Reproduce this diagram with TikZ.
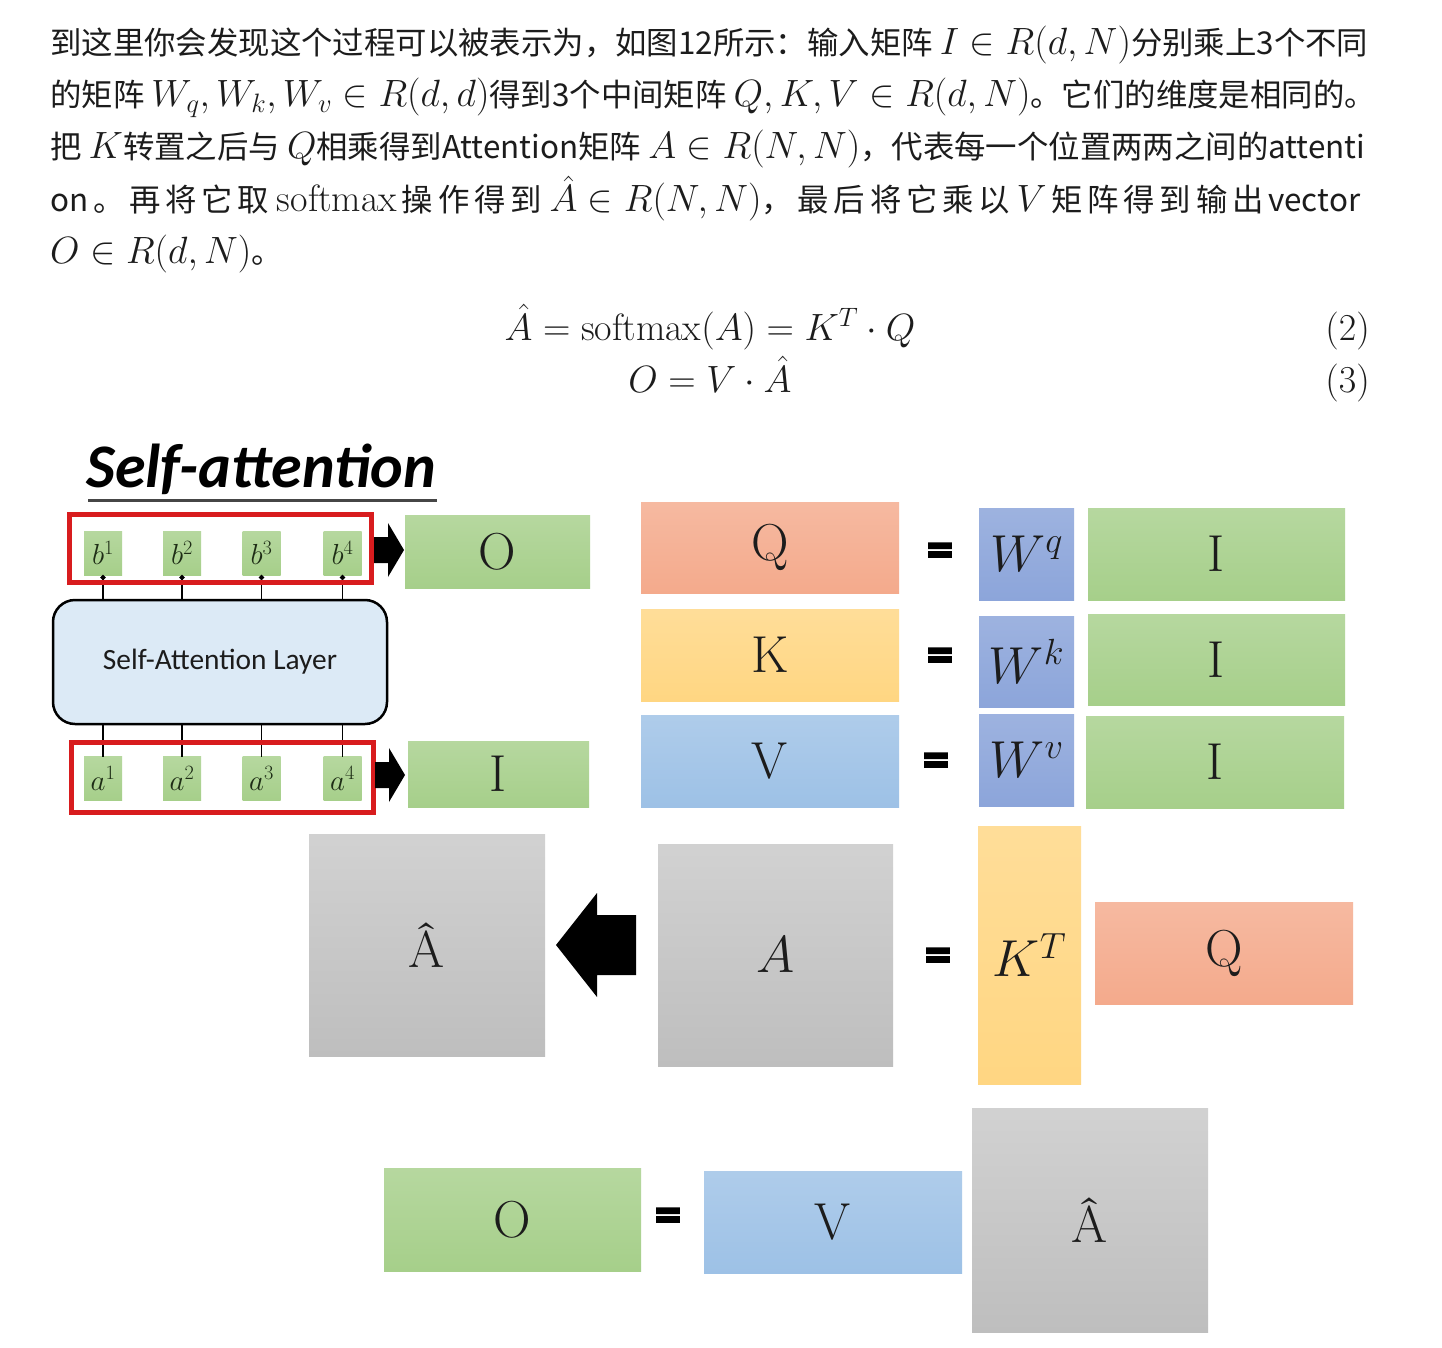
\RequirePackage{fix-cm}
\documentclass[tikz,border=0pt]{standalone}
\usepackage{fontspec}
\newfontfamily\cjk{Noto Sans CJK SC}
\newfontfamily\carlito{Carlito}
\newfontfamily\eqfont[FakeBold=4]{Carlito Bold}
\usetikzlibrary{arrows.meta}
\definecolor{txt}{RGB}{28,28,28}
\definecolor{grn}{RGB}{166,207,138}
\definecolor{sal}{RGB}{244,170,140}
\definecolor{yel}{RGB}{255,214,130}
\definecolor{vblue}{RGB}{157,193,230}
\definecolor{wblue}{RGB}{140,165,218}
\definecolor{gryB}{RGB}{190,190,190}
\definecolor{layerblue}{RGB}{220,234,246}
\definecolor{redb}{RGB}{216,28,30}
\definecolor{uline}{RGB}{70,70,70}
\newcommand\mth[1]{{\fontsize{38}{46}\selectfont$#1$}}
\tikzset{
  txtline/.style={anchor=base west, inner sep=0, text=txt, font=\cjk\fontsize{31.4}{38}\selectfont},
  sz/.style 2 args={minimum width=#1, minimum height=#2, inner sep=0, outer sep=0},
  gbox/.style={top color=grn!82!white, bottom color=grn},
  sbox/.style={top color=sal!82!white, bottom color=sal},
  ybox/.style={top color=yel!82!white, bottom color=yel},
  vbox/.style={top color=vblue!82!white, bottom color=vblue},
  wbox/.style={top color=wblue!85!white, bottom color=wblue},
  grbox/.style={top color=gryB!70!white, bottom color=gryB},
  letter/.style={text=txt, font=\fontsize{52}{56}\selectfont},
  small/.style={sz={38}{44}, gbox, text={rgb,255:red,30;green,45;blue,22}, font=\fontsize{29}{30}\selectfont},
  redframe/.style={draw=redb, line width=5, fill=none, inner sep=0},
  eqsign/.style={font=\eqfont\fontsize{52}{56}\selectfont, text=black, inner sep=0},
  conn/.style={line width=1.8, draw=black},
}
\begin{document}
\begin{tikzpicture}[x=1pt, y=-1pt]
\useasboundingbox (0,0) rectangle (1442,1348);
\fill[white] (0,0) rectangle (1442,1348);

% ---------- paragraph ----------
\node[txtline] (l1) at (50,55) {到这里你会发现这个过程可以被表示为，如图12所示：输入矩阵 \mth{I\in R(d,N)}分别乘上3个不同};
\node[txtline] (l2) at (50,107) {的矩阵 \mth{W_q,W_k,W_v\in R(d,d)}得到3个中间矩阵 \mth{Q,K,V\in R(d,N)}。它们的维度是相同的。};
\node[txtline] (l3) at (50,159) {把 \mth{K}转置之后与 \mth{Q}相乘得到Attention矩阵 \mth{A\in R(N,N)}，代表每一个位置两两之间的attenti};
\node[txtline] (l4) at (50,212) {\makebox[1310pt][s]{on 。 再 将 它 取\hspace{3pt} \mth{\mathrm{softmax}} 操 作 得 到\hspace{3pt} \mth{\hat A\in R(N,N)}， 最 后 将 它 乘 以\hspace{2pt} \mth{V} 矩 阵 得 到 输 出 vector}};
\node[txtline] (l5) at (50,264) {\mth{O\in R(d,N)}。};

% ---------- equations ----------
\node[anchor=base, inner sep=0, text=txt] (eq2) at (710,340) {\mth{\hat A=\mathrm{softmax}(A)=K^T\cdot Q}};
\node[anchor=base, inner sep=0, text=txt] (eq3) at (710,392) {\mth{O=V\cdot\hat A}};
\node[anchor=base east, inner sep=0, text=txt] (t2) at (1370,340) {\mth{(2)}};
\node[anchor=base east, inner sep=0, text=txt] (t3) at (1370,392) {\mth{(3)}};

% ---------- self-attention panel ----------
\node[anchor=base west, inner sep=0, text=black, font=\carlito\bfseries\itshape\fontsize{62}{66}\selectfont] (title) at (86,487) {Self-attention};
\coordinate (ulA) at (88,500);
\coordinate (ulB) at (437,500);
\draw[line width=3, draw=uline] (ulA) -- (ulB);

\node[draw=black, line width=2.5, rounded corners=22, fill=layerblue, sz={334}{124}, text=txt, font=\carlito\fontsize{29.4}{32}\selectfont] (layer) at (220,662) {Self-Attention Layer};

\node[small] (b1) at (103,553) {$b^{1}$};
\node[small] (b2) at (182,553) {$b^{2}$};
\node[small] (b3) at (261.5,553) {$b^{3}$};
\node[small] (b4) at (342.5,553) {$b^{4}$};
\node[small] (a1) at (103,778.5) {$a^{1}$};
\node[small] (a2) at (182,778.5) {$a^{2}$};
\node[small] (a3) at (261.5,778.5) {$a^{3}$};
\node[small] (a4) at (342.5,778.5) {$a^{4}$};

\foreach \i in {1,...,4}{
  \draw[conn, -{Circle[length=5pt]}] (layer.north -| b\i.south) -- (b\i.south);
  \draw[conn] (a\i.north) -- (a\i.north |- layer.south);
}

\node[redframe, sz={302}{68}] (rtop) at (220,548) {};
\node[redframe, sz={302}{70}] (rbot) at (222,777) {};

\fill[black] (374,537) -- (388,537) -- (388,523) -- (404,550) -- (388,577) -- (388,563) -- (374,563) -- cycle;
\fill[black] (375,762) -- (389,762) -- (389,748) -- (405,775) -- (389,802) -- (389,788) -- (375,788) -- cycle;

\node[gbox, sz={185}{73}, letter] (O1) at (497.5,551.5) {O};
\node[gbox, sz={181}{66}, letter] (I1) at (498.5,774) {I};

% ---------- Q K V rows ----------
\node[sbox, sz={258}{91}, letter] (Q1) at (770,547.5) {Q};
\node[ybox, sz={258}{92}, letter] (K1) at (770,655) {K};
\node[vbox, sz={258}{92}, letter] (V1) at (770,761) {V};

\node[eqsign] (e1) at (940,555) {=};
\node[eqsign] (e2) at (940,660) {=};
\node[eqsign] (e3) at (936,765) {=};

\node[wbox, sz={95}{92}, letter] (Wq) at (1026.5,554) {$W^{q}$};
\node[wbox, sz={95}{91}, letter] (Wk) at (1026.5,661.5) {$W^{k}$};
\node[wbox, sz={95}{92}, letter] (Wv) at (1026.5,760) {$W^{v}$};

\node[gbox, sz={257}{92}, letter] (Iq) at (1216.5,554) {I};
\node[gbox, sz={257}{91}, letter] (Ik) at (1216.5,659.5) {I};
\node[gbox, sz={258}{92}, letter] (Iv) at (1215,762) {I};

% ---------- attention row ----------
\node[grbox, sz={236}{222}, letter] (Ah1) at (427,945) {Â};
\fill[black] (636,915) -- (597,915) -- (597,893) -- (556,945) -- (597,997) -- (597,975) -- (636,975) -- cycle;
\node[grbox, sz={235}{222}, letter] (A) at (775.5,955) {$A$};
\node[eqsign] (e4) at (938,960) {=};
\node[ybox, sz={103}{258}, letter] (KT) at (1029.5,955) {$K^{T}$};
\node[sbox, sz={258}{102}, letter] (Q2) at (1224,953) {Q};

% ---------- output row ----------
\node[gbox, sz={257}{103}, letter] (O2) at (512.5,1219.5) {O};
\node[eqsign] (e5) at (668,1220) {=};
\node[vbox, sz={258}{102}, letter] (V2) at (833,1222) {V};
\node[grbox, sz={236}{224}, letter] (Ah2) at (1090,1220) {Â};
\end{tikzpicture}
\end{document}
